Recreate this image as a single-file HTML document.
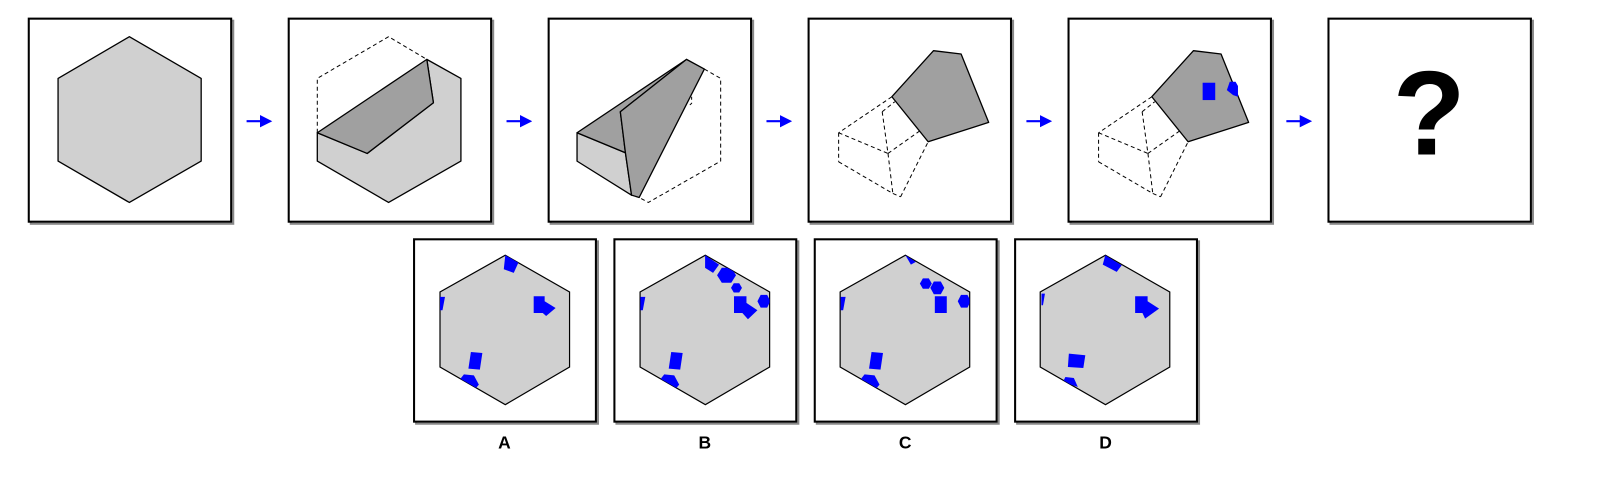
<!DOCTYPE html>
<html><head><meta charset="utf-8"><style>
html,body{margin:0;padding:0;background:#fff;}
svg{display:block;}
</style></head><body>
<svg id="s" width="1610" height="490" viewBox="0 0 1567 473" preserveAspectRatio="none" xmlns="http://www.w3.org/2000/svg">
<defs>
  <marker id="ah" markerWidth="6" markerHeight="6" refX="5" refY="3" orient="auto"><path d="M0,0 L6,3 L0,6 z" fill="#0000ff"/></marker>
</defs>
<g id="boxes"></g>

<g transform="scale(0.4957,0.322)" stroke="#000" stroke-linejoin="round">
  <polygon points="254,110 395,235 395,483 254,607 114,483 114,235" fill="#d0d0d0" vector-effect="non-scaling-stroke" stroke-width="1.3"/>
  <polygon points="623,398 721,460 851,308 838,178 905,235 905,483 763,607 623,483" fill="#d0d0d0" vector-effect="non-scaling-stroke" stroke-width="1.3"/>
  <polygon points="623,398 838,178 851,308 721,460" fill="#a0a0a0" vector-effect="non-scaling-stroke" stroke-width="1.3"/>
  <polyline points="623,398 623,235 763,110 838,178" fill="none" stroke-dasharray="4,3" vector-effect="non-scaling-stroke" stroke-width="1"/>
  <polygon points="1133,398 1133,483 1240,585 1228,458" fill="#d0d0d0" vector-effect="non-scaling-stroke" stroke-width="1.3"/>
  <polygon points="1133,398 1348,178 1218,335 1228,458" fill="#a0a0a0" vector-effect="non-scaling-stroke" stroke-width="1.3"/>
  <polygon points="1218,335 1348,178 1383,207 1255,592 1240,585 1228,458" fill="#a0a0a0" vector-effect="non-scaling-stroke" stroke-width="1.3"/>
  <polyline points="1383,207 1415,235 1415,483 1273,607 1255,592" fill="none" stroke-dasharray="4,3" vector-effect="non-scaling-stroke" stroke-width="1"/>
  <polyline points="1358,290 1358,310 1350,320" fill="none" stroke-dasharray="3,3" vector-effect="non-scaling-stroke" stroke-width="1"/>
</g>

<g id="step4" transform="translate(759.7,0) scale(0.4711,0.322)" stroke="#000" stroke-linejoin="round"></g>
<g id="step5" transform="translate(1012.7,0) scale(0.4711,0.322)" stroke="#000" stroke-linejoin="round"></g>

<text x="1391" y="149" text-anchor="middle" font-family="Liberation Sans, sans-serif" font-weight="bold" font-size="116">?</text>

<g id="opts" transform="translate(384.6,217.4) scale(0.485,0.322)"></g>

<g font-family="Liberation Sans, sans-serif" font-weight="bold" font-size="17" text-anchor="middle">
  <text x="491" y="433">A</text>
  <text x="686" y="433">B</text>
  <text x="881" y="433">C</text>
  <text x="1076" y="433">D</text>
</g>
</svg>
<script>
var NS='http://www.w3.org/2000/svg';
function mk(tag,attrs,parent){var e=document.createElementNS(NS,tag);for(var k in attrs)e.setAttribute(k,attrs[k]);parent.appendChild(e);return e;}
var boxes=document.getElementById('boxes');
var topX=[28,281,534,787,1040,1293];
topX.forEach(function(x,i){
  mk('rect',{x:x+2,y:20,width:197,height:196,fill:'none',stroke:'#888','stroke-width':2},boxes);
  var r=mk('rect',{x:x,y:18,width:197,height:196,fill:'#fff',stroke:'#000','stroke-width':2},boxes);
  
  
  if(i<5){
    var a=mk('line',{x1:x+212,y1:117,x2:x+235,y2:117,stroke:'#0000ff','stroke-width':2,'marker-end':'url(#ah)'},boxes);
    
    
  }
});
var optX=[403,598,793,988];
optX.forEach(function(x,i){
  mk('rect',{x:x+2,y:233,width:177,height:176,fill:'none',stroke:'#888','stroke-width':2},boxes);
  var r=mk('rect',{x:x,y:231,width:177,height:176,fill:'#fff',stroke:'#000','stroke-width':2},boxes);
  
  
});
function drawStep(g,name,blue){
  var d=[[230,290,120,398],[120,398,120,485],[120,485,232,580],[232,580,248,590],[248,590,305,425],[120,398,222,460],[222,460,288,392],[222,460,232,580],[210,335,222,460],[210,335,236,305]];
  d.forEach(function(s){mk('line',{x1:s[0],y1:s[1],x2:s[2],y2:s[3],'stroke-dasharray':'4,3','vector-effect':'non-scaling-stroke','stroke-width':1},g);});
  var p=mk('polygon',{points:'316,152 373,162 430,367 305,425 230,290',fill:'#a0a0a0','vector-effect':'non-scaling-stroke','stroke-width':1.3},g);
  
  
  if(blue){
    var b1=mk('rect',{x:872,y:248,width:26,height:52,fill:'#0000ff',stroke:'none',transform:'translate(-537,0)'},g);
    
    
    var b2=mk('polygon',{points:'928,245 940,245 945,258 945,290 935,285 922,270',fill:'#0000ff',stroke:'none',transform:'translate(-537,0)'},g);
    
    
  }
}
drawStep(document.getElementById('step4'),'folded-shape-step-4',false);
drawStep(document.getElementById('step5'),'folded-shape-step-5',true);

var opts=document.getElementById('opts');
var defs=document.querySelector('defs');
function hexPts(cx,cy,rx,ry){var p=[];for(var k=0;k<6;k++){var a=Math.PI/3*k;p.push((cx+rx*Math.cos(a)).toFixed(1)+','+(cy+ry*Math.sin(a)).toFixed(1));}return p.join(' ');}
var shapesA=['221,90 248,110 238,143 218,132','90,215 100,215 95,255 90,255','278,213 300,213 300,263 278,263','300,228 322,248 303,272 290,255','152,380 175,383 170,433 147,430','138,447 158,450 168,478 160,492 130,462'];
var shapesB=['622,90 650,118 638,143 622,128','HEX665,150,19,26','HEX685,188,11,16','680,213 705,213 705,263 680,263','700,228 727,255 708,282 695,260','HEX740,228,13,22','492,215 502,215 497,255 492,255','554,380 577,383 572,433 549,430','540,447 560,450 570,478 562,492 532,462'];
var shapesC=['1024,90 1045,110 1035,118','HEX1065,175,12,18','HEX1088,188,14,22','1083,213 1107,213 1107,263 1083,263','HEX1142,228,13,22','894,215 904,215 899,255 894,255','956,380 979,383 974,433 951,430','942,447 962,450 972,478 964,492 934,462'];
var shapesD=['1425,90 1458,120 1448,140 1420,118','1297,205 1304,205 1300,240 1297,240','1485,213 1510,213 1510,263 1485,263','1510,228 1533,250 1505,280 1497,255','1352,385 1385,390 1381,428 1350,425','1345,455 1362,458 1370,485 1340,470'];
var allShapes=[shapesA,shapesB,shapesC,shapesD];
var hexShift=[0,401.5,803,1204.5];
allShapes.forEach(function(list,i){
  var s=hexShift[i];
  var pts=[[221,90],[350,200],[350,425],[221,538],[90,425],[90,200]].map(function(p){return (p[0]+s)+','+p[1];}).join(' ');
  var cp=mk('clipPath',{id:'clip'+i},defs);
  mk('polygon',{points:pts},cp);
  var h=mk('polygon',{points:pts,fill:'#d0d0d0',stroke:'#000','stroke-width':1.2,'vector-effect':'non-scaling-stroke'},opts);
  
  
  var g=mk('g',{'clip-path':'url(#clip'+i+')',fill:'#0000ff'},opts);
  list.forEach(function(sh,j){
    var p;
    if(sh.indexOf('HEX')===0){var v=sh.slice(3).split(',').map(Number);p=mk('polygon',{points:hexPts(v[0],v[1],v[2],v[3])},g);}
    else p=mk('polygon',{points:sh},g);
    
    
  });
});
</script>
</body></html>
